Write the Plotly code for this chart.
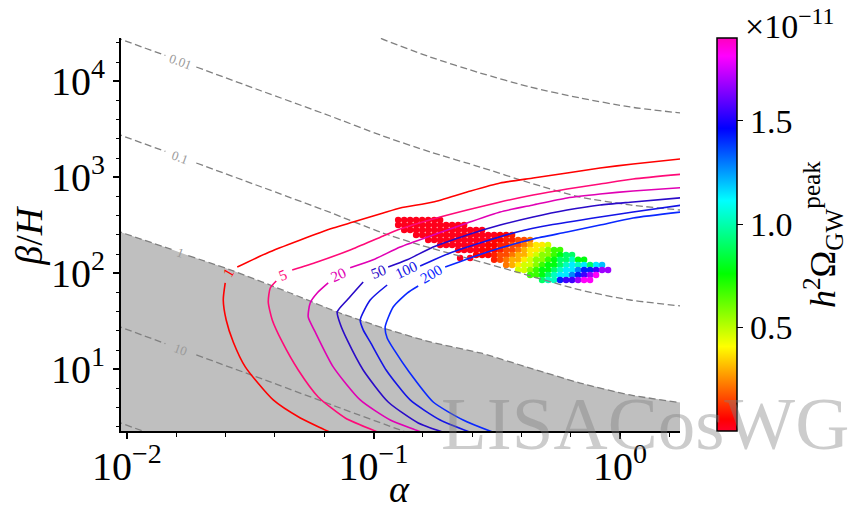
import math
import plotly.graph_objects as go

# ---------------- data ----------------
# dashed grey contours (alpha, beta/H); None = gap for inline label
d0001_a = [0.0988, 0.1064, 0.1698, 0.2707, 0.4316, 0.6885, 1.098, 1.919]
d0001_b = [31840, 28250, 17900, 12200, 8720, 6700, 5400, 4560]

d001_a = [0.00898, 0.0094, 0.01432, None, 0.01911, 0.03473, 0.06675, 0.1064, 0.1698, 0.2707, 0.4316, 0.6885, 1.098, 1.919]
d001_b = [28940, 27580, 18570, None, 14090, 8020, 4350, 2758, 1834, 1279, 872, 623, 515, 446]

d01_a = [0.00898, 0.0094, 0.01432, None, 0.01911, 0.03473, 0.06675, 0.1064, 0.1546, 0.231, 0.3932, 0.6885, 1.098, 1.919]
d01_b = [2894, 2758, 1858, None, 1409, 802, 430, 269, 197, 148, 100.7, 67.0, 52.7, 44.6]

d1_a = [0.00898, 0.0094, 0.01541, None, 0.01773, 0.02699, 0.04596, 0.07125, 0.1095, 0.1698, 0.2707, 0.4316, 0.6885, 1.098, 1.919]
d1_b = [282, 269, 175, None, 153, 106, 62.3, 39.5, 26.9, 19.25, 14.8, 10.3, 7.19, 5.40, 4.35]

d10_a = [0.00898, 0.0094, 0.01432, None, 0.01911, 0.03813, 0.07328, 0.1283, 0.1546]
d10_b = [28.9, 27.6, 18.5, None, 14.1, 7.38, 3.95, 2.33, 1.95]

d100_a = [0.00898, 0.01189]
d100_b = [2.89, 2.22]

# solid SNR contours
snr1_a = [0.0768, 0.0649, 0.0505, 0.0392, 0.0302, 0.02699, 0.02527, 0.02459, 0.02504, None,
          0.02802, 0.0371, 0.0505, 0.0686, 0.0827, 0.1095, 0.1283, 0.1746, 0.2398, 0.3263, 0.4439, 0.6097, 0.8298, 1.129, 1.919]
snr1_b = [1.83, 2.28, 3.11, 4.79, 10.6, 19.25, 32.6, 52.7, 79.3, None,
          116, 163, 222, 296, 342, 425, 479, 553, 703, 872, 983, 1109, 1250, 1375, 1589]

snr5_a = [0.1224, 0.1016, 0.0768, 0.05967, 0.04952, 0.04265, 0.03885, 0.03743, 0.03813, 0.04033, None,
          0.04681, 0.0591, 0.0804, 0.1095, 0.1283, 0.1746, 0.2398, 0.3263, 0.4439, 0.6097, 0.8298, 1.129, 1.919]
snr5_b = [1.92, 2.28, 3.11, 5.15, 9.83, 19.25, 32.6, 50.2, 70.3, 83.1, None,
          108, 131, 175, 245, 289, 368, 456, 553, 654, 755, 851, 960, 1095]

snr20_a = [0.1778, 0.1518, 0.1169, 0.08833, 0.06864, 0.05801, 0.05435, 0.05537, 0.0591, 0.0655, None,
           0.0804, 0.0997, 0.1283, 0.1746, 0.2398, 0.3263, 0.4439, 0.6097, 0.8298, 1.129, 1.919]
snr20_b = [1.92, 2.28, 2.96, 4.79, 10.6, 24.5, 35.1, 49.1, 62.3, 79.3, None,
           114, 138, 188, 251, 334, 435, 515, 609, 670, 720, 792]

snr50_a = [0.2246, 0.1953, 0.1518, 0.1147, 0.0908, 0.0782, 0.0733, 0.07125, 0.0782, 0.0908, None,
           0.1147, 0.137, 0.1746, 0.2398, 0.3263, 0.4439, 0.6097, 0.8298, 1.129, 1.919]
snr50_b = [1.92, 2.17, 2.76, 4.56, 9.83, 20.2, 29.6, 39.5, 52.7, 81.2, None,
           116, 138, 188, 251, 318, 386, 456, 515, 553, 623]

snr100_a = [0.2890, 0.2513, 0.1864, 0.1408, 0.1125, 0.09696, 0.09083, 0.08833, 0.09696, 0.1136, None,
            0.1546, 0.2046, 0.2785, 0.3824, 0.5201, 0.8298, 1.129, 1.919]
snr100_b = [1.92, 2.17, 2.96, 4.79, 9.83, 19.25, 25.7, 32.6, 52.7, 75.5, None,
            119, 163, 212, 269, 318, 386, 435, 527]

snr200_a = [0.3582, 0.3114, 0.231, 0.1746, 0.1395, 0.1213, 0.1136, 0.1115, 0.1202, 0.137, 0.1518, None,
            0.1953, 0.2398, 0.3263, 0.4439, 0.6097, 0.8298, 1.129, 1.919]
snr200_b = [1.92, 2.17, 2.96, 4.56, 9.37, 15.9, 21.2, 27.6, 44.6, 62.3, 73.8, None,
            116, 141, 183, 228, 269, 318, 377, 446]

snr_labels = ["1", "5", "20", "50", "100", "200"]
snr_label_a = [0.02582, 0.0430, 0.0719, 0.1045, 0.1357, 0.1714]
snr_label_b = [100.7, 96.0, 96.0, 103, 108, 98.3]

dash_labels = ["0.01", "0.1", "1", "10"]
dash_label_a = [0.01646, 0.01646, 0.01646, 0.01646]
dash_label_b = [15890, 1627, 163, 15.9]

# scatter cloud: alpha, beta/H, h^2 Omega_peak (x 1e-11)
cloud_alpha = [
    0.1259, 0.1259,
    0.1332, 0.1332, 0.1332,
    0.1408, 0.1408, 0.1408,
    0.1489, 0.1489, 0.1489, 0.1489,
    0.1575, 0.1575, 0.1575, 0.1575,
    0.1666, 0.1666, 0.1666, 0.1666, 0.1666,
    0.1762, 0.1762, 0.1762, 0.1762, 0.1762,
    0.1863, 0.1863, 0.1863, 0.1863, 0.1863, 0.1863,
    0.1970, 0.1970, 0.1970, 0.1970, 0.1970,
    0.2084, 0.2084, 0.2084, 0.2084, 0.2084,
    0.2204, 0.2204, 0.2204, 0.2204, 0.2204, 0.2204,
    0.2331, 0.2331, 0.2331, 0.2331, 0.2331, 0.2331,
    0.2465, 0.2465, 0.2465, 0.2465, 0.2465,
    0.2607, 0.2607, 0.2607, 0.2607, 0.2607, 0.2607,
    0.2757, 0.2757, 0.2757, 0.2757, 0.2757, 0.2757,
    0.2916, 0.2916, 0.2916, 0.2916, 0.2916,
    0.3084, 0.3084, 0.3084, 0.3084, 0.3084, 0.3084,
    0.3262, 0.3262, 0.3262, 0.3262, 0.3262, 0.3262,
    0.3450, 0.3450, 0.3450, 0.3450, 0.3450, 0.3450, 0.3450,
    0.3648, 0.3648, 0.3648, 0.3648, 0.3648, 0.3648, 0.3648,
    0.3858, 0.3858, 0.3858, 0.3858, 0.3858, 0.3858, 0.3858,
    0.4081, 0.4081, 0.4081, 0.4081, 0.4081, 0.4081, 0.4081,
    0.4316, 0.4316, 0.4316, 0.4316, 0.4316, 0.4316, 0.4316, 0.4316,
    0.4564, 0.4564, 0.4564, 0.4564, 0.4564, 0.4564, 0.4564,
    0.4827, 0.4827, 0.4827, 0.4827, 0.4827, 0.4827, 0.4827, 0.4827,
    0.5105, 0.5105, 0.5105, 0.5105, 0.5105, 0.5105, 0.5105, 0.5105,
    0.5399, 0.5399, 0.5399, 0.5399, 0.5399, 0.5399, 0.5399,
    0.5710, 0.5710, 0.5710, 0.5710, 0.5710, 0.5710, 0.5710,
    0.6039, 0.6039, 0.6039, 0.6039, 0.6039, 0.6039,
    0.6387, 0.6387, 0.6387, 0.6387, 0.6387, 0.6387,
    0.6755, 0.6755, 0.6755, 0.6755, 0.6755,
    0.7144, 0.7144, 0.7144, 0.7144, 0.7144,
    0.7555, 0.7555, 0.7555, 0.7555,
    0.7990, 0.7990, 0.7990,
    0.8451, 0.8451,
    0.8937,
    0.2245, 0.2465,
]
cloud_beta = [
    359, 319,
    359, 319, 283,
    359, 319, 283,
    359, 319, 283, 251,
    359, 319, 283, 251,
    359, 319, 283, 251, 222,
    359, 319, 283, 251, 222,
    359, 319, 283, 251, 222, 197,
    319, 283, 251, 222, 197,
    319, 283, 251, 222, 197,
    319, 283, 251, 222, 197, 175,
    319, 283, 251, 222, 197, 175,
    283, 251, 222, 197, 175,
    283, 251, 222, 197, 175, 155,
    283, 251, 222, 197, 175, 155,
    251, 222, 197, 175, 155,
    251, 222, 197, 175, 155, 138,
    251, 222, 197, 175, 155, 138,
    251, 222, 197, 175, 155, 138, 122,
    251, 222, 197, 175, 155, 138, 122,
    222, 197, 175, 155, 138, 122, 108,
    222, 197, 175, 155, 138, 122, 108,
    222, 197, 175, 155, 138, 122, 108, 96.1,
    197, 175, 155, 138, 122, 108, 96.1,
    197, 175, 155, 138, 122, 108, 96.1, 85.2,
    197, 175, 155, 138, 122, 108, 96.1, 85.2,
    175, 155, 138, 122, 108, 96.1, 85.2,
    175, 155, 138, 122, 108, 96.1, 85.2,
    155, 138, 122, 108, 96.1, 85.2,
    155, 138, 122, 108, 96.1, 85.2,
    138, 122, 108, 96.1, 85.2,
    138, 122, 108, 96.1, 85.2,
    122, 108, 96.1, 85.2,
    122, 108, 96.1,
    122, 108,
    108,
    144, 144,
]
cloud_omega = [
    0.02, 0.02,
    0.02, 0.02, 0.02,
    0.02, 0.02, 0.02,
    0.02, 0.02, 0.02, 0.02,
    0.02, 0.02, 0.02, 0.02,
    0.02, 0.02, 0.02, 0.02, 0.02,
    0.02, 0.02, 0.02, 0.02, 0.02,
    0.02, 0.02, 0.02, 0.02, 0.02, 0.02,
    0.02, 0.02, 0.02, 0.02, 0.02,
    0.02, 0.02, 0.02, 0.02, 0.02,
    0.02, 0.02, 0.02, 0.02, 0.02, 0.02,
    0.02, 0.02, 0.02, 0.02, 0.02, 0.02,
    0.02, 0.02, 0.02, 0.02, 0.02,
    0.02, 0.02, 0.02, 0.02, 0.02, 0.06,
    0.02, 0.02, 0.02, 0.02, 0.06, 0.06,
    0.02, 0.02, 0.06, 0.06, 0.06,
    0.02, 0.06, 0.06, 0.06, 0.10, 0.10,
    0.06, 0.06, 0.10, 0.10, 0.16, 0.16,
    0.06, 0.10, 0.10, 0.16, 0.16, 0.22, 0.22,
    0.10, 0.10, 0.16, 0.16, 0.22, 0.30, 0.30,
    0.16, 0.16, 0.22, 0.30, 0.30, 0.38, 0.47,
    0.16, 0.22, 0.30, 0.30, 0.38, 0.47, 0.47,
    0.22, 0.30, 0.38, 0.38, 0.47, 0.47, 0.57, 0.68,
    0.38, 0.38, 0.47, 0.57, 0.57, 0.68, 0.68,
    0.38, 0.47, 0.57, 0.57, 0.68, 0.78, 0.78, 0.90,
    0.47, 0.57, 0.57, 0.68, 0.78, 0.78, 0.90, 1.02,
    0.68, 0.68, 0.78, 0.78, 0.90, 1.02, 1.02,
    0.68, 0.78, 0.90, 0.90, 1.02, 1.14, 1.42,
    0.90, 0.90, 1.02, 1.14, 1.14, 1.55,
    0.90, 1.02, 1.14, 1.14, 1.28, 1.55,
    0.78, 1.02, 1.28, 1.42, 1.68,
    0.78, 1.14, 1.42, 1.55, 1.82,
    0.90, 1.42, 1.68, 1.82,
    1.14, 1.55, 1.82,
    1.20, 1.68,
    1.68,
    0.02, 0.02,
]

x_tickvals = [0.01, 0.1, 1]
x_ticktext = ["10<sup>−2</sup>", "10<sup>−1</sup>", "10<sup>0</sup>"]
y_tickvals = [10, 100, 1000, 10000]
y_ticktext = ["10<sup>1</sup>", "10<sup>2</sup>", "10<sup>3</sup>", "10<sup>4</sup>"]
cbar_tickvals = [0.5, 1.0, 1.5]
cbar_ticktext = ["0.5", "1.0", "1.5"]

# ---------------- styling ----------------
FONT = "Liberation Serif"
GRAY_FILL = "#bfbfbf"
DASH_COLOR = "#808080"
snr_colors = ["#ff0000", "#ff0a78", "#e000b4", "#2a0ac8", "#1414e6", "#0a28ff"]
gist_rainbow = [
    [0.000, "rgb(255,0,41)"], [0.030, "rgb(255,0,0)"], [0.215, "rgb(255,255,0)"],
    [0.400, "rgb(0,255,0)"], [0.586, "rgb(0,255,255)"], [0.770, "rgb(0,0,255)"],
    [0.954, "rgb(255,0,255)"], [1.000, "rgb(255,0,191)"],
]

fig = go.Figure()

# grey excluded region below the "1" dashed line
fill_a = [a for a in d1_a if a is not None]
fill_b = [b for b in d1_b if b is not None]
fig.add_trace(go.Scatter(
    x=fill_a + [fill_a[-1], fill_a[0]], y=fill_b + [1.0, 1.0],
    fill="toself", fillcolor=GRAY_FILL, mode="lines", line=dict(width=0),
    hoverinfo="skip", showlegend=False))

# scatter cloud
fig.add_trace(go.Scatter(
    x=cloud_alpha, y=cloud_beta, mode="markers",
    marker=dict(size=6.5, color=cloud_omega, colorscale=gist_rainbow, cmin=0.0, cmax=1.9,
                line=dict(width=0),
                colorbar=dict(
                    thickness=20, thicknessmode="pixels", len=1.0, lenmode="fraction",
                    x=1.066, xanchor="left", xpad=0, y=0.5, yanchor="middle", ypad=0,
                    outlinewidth=1.5, outlinecolor="black",
                    tickvals=cbar_tickvals, ticktext=cbar_ticktext,
                    ticks="outside", ticklen=6, tickwidth=1.2, tickcolor="black",
                    tickfont=dict(family=FONT, size=34, color="black"),
                )),
    showlegend=False, hoverinfo="skip"))

# dashed lines
for xa, yb in [(d0001_a, d0001_b), (d001_a, d001_b), (d01_a, d01_b),
               (d1_a, d1_b), (d10_a, d10_b), (d100_a, d100_b)]:
    fig.add_trace(go.Scatter(x=xa, y=yb, mode="lines",
                             line=dict(color=DASH_COLOR, width=1.3, dash="7px,3.5px",
                                       shape="spline", smoothing=0.6),
                             connectgaps=False, showlegend=False, hoverinfo="skip"))

# SNR contours
for (xa, yb), col in zip([(snr1_a, snr1_b), (snr5_a, snr5_b), (snr20_a, snr20_b),
                          (snr50_a, snr50_b), (snr100_a, snr100_b), (snr200_a, snr200_b)],
                         snr_colors):
    fig.add_trace(go.Scatter(x=xa, y=yb, mode="lines",
                             line=dict(color=col, width=1.6, shape="spline", smoothing=0.6),
                             connectgaps=False, showlegend=False, hoverinfo="skip"))

annotations = []
for t, a, b in zip(dash_labels, dash_label_a, dash_label_b):
    annotations.append(dict(x=math.log10(a), y=math.log10(b), xref="x", yref="y", text=t,
                            showarrow=False, textangle=20,
                            font=dict(family=FONT, size=13, color="#9a9a9a")))
snr_angles = [-60, -22, -25, -22, -25, -30]
for t, a, b, col, ang in zip(snr_labels, snr_label_a, snr_label_b, snr_colors, snr_angles):
    annotations.append(dict(x=math.log10(a), y=math.log10(b), xref="x", yref="y", text=t,
                            showarrow=False, textangle=ang,
                            font=dict(family=FONT, size=15, color=col)))

# axis titles, colorbar title, multiplier, watermark
annotations += [
    dict(x=0.499, y=-0.206, xref="paper", yref="paper", text="<i>α</i>", showarrow=False,
         xanchor="center", yanchor="bottom", font=dict(family=FONT, size=38, color="black")),
    dict(x=-0.165, y=0.499, xref="paper", yref="paper", text="<i>β</i>/<i>H</i>", showarrow=False,
         textangle=-90, xanchor="center", yanchor="middle",
         font=dict(family=FONT, size=38, color="black")),
    dict(x=1.256, y=0.499, xref="paper", yref="paper",
         text="<i>h</i><sup>2</sup>Ω<sub>GW</sub><sup>peak</sup>", showarrow=False,
         textangle=-90, xanchor="center", yanchor="middle",
         font=dict(family=FONT, size=36, color="black")),
    dict(x=1.197, y=0.978, xref="paper", yref="paper", text="×10<sup>−11</sup>", showarrow=False,
         xanchor="center", yanchor="bottom", font=dict(family=FONT, size=34, color="black")),
    dict(x=0.937, y=0.02, xref="paper", yref="paper", text="LISACosWG", showarrow=False,
         xanchor="center", yanchor="middle",
         font=dict(family=FONT, size=75, color="rgba(128,128,128,0.4)")),
]

axis_common = dict(
    type="log", showgrid=False, zeroline=False, showline=True, linecolor="black", linewidth=2,
    ticks="outside", ticklen=6, tickwidth=1.5, tickcolor="black", mirror=False,
    tickfont=dict(family=FONT, size=40, color="black"),
    minor=dict(dtick=0.2, ticks="outside", ticklen=3.5, tickwidth=1, tickcolor="black", showgrid=False),
)
fig.update_layout(
    width=854, height=514,
    margin=dict(l=121, r=174, t=38, b=83),
    paper_bgcolor="white", plot_bgcolor="white",
    font=dict(family=FONT, color="black"),
    xaxis=dict(range=[-2.024, 0.243], tickvals=x_tickvals, ticktext=x_ticktext,
               ticklabelstandoff=-7, **axis_common),
    yaxis=dict(range=[0.357, 4.451], tickvals=y_tickvals, ticktext=y_ticktext, **axis_common),
    annotations=annotations,
    showlegend=False,
)

fig.write_html("out.html")
